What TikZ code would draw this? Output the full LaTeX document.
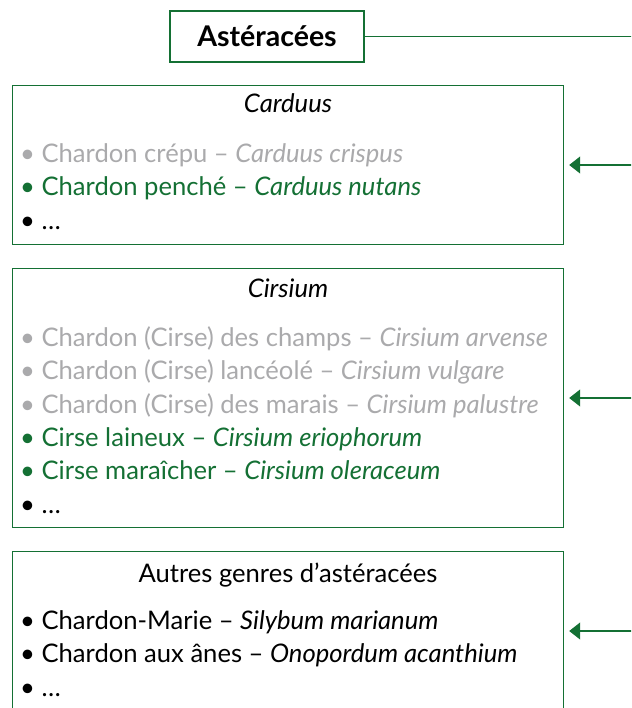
\documentclass[tikz,border=0pt]{standalone}
\usepackage{fontspec}
\setmainfont{Lato}
\usetikzlibrary{arrows.meta}
\definecolor{vert}{RGB}{20,112,52}
\definecolor{gris}{RGB}{170,170,172}
\tikzset{
  x=1pt, y=1pt,
  box/.style={draw=vert, line width=1.2pt, rectangle, inner sep=0pt},
  ln/.style={anchor=base west, inner sep=0pt, font=\fontsize{25.6}{30}\selectfont},
  ttl/.style={anchor=base, inner sep=0pt, font=\fontsize{25.6}{30}\selectfont},
  conn/.style={draw=vert, line width=1.2pt},
  arr/.style={conn, -{Triangle[length=11pt,width=17pt]}}
}
\begin{document}
\begin{tikzpicture}
\clip (0,0) rectangle (631,-708);
\useasboundingbox (0,0) rectangle (631,-708);
% top node
\node[box, minimum width=194pt, minimum height=51pt, font=\fontsize{28.5}{32}\selectfont\bfseries] (top) at (267,-36.5) {Astéracées};
\coordinate (topR) at (640,-36.5);
\draw[conn] (top.east) -- (topR);
% boxes
\node[box, anchor=north west, minimum width=551pt, minimum height=159pt] (b1) at (12,-85) {};
\node[box, anchor=north west, minimum width=551pt, minimum height=259pt] (b2) at (12,-268) {};
\node[box, anchor=north west, minimum width=551pt, minimum height=180pt] (b3) at (12,-551) {};
% arrows
\coordinate (a1) at (640,-165);
\coordinate (a2) at (640,-398);
\coordinate (a3) at (640,-631);
\draw[arr] (a1) -- ([xshift=5pt]b1.east |- a1);
\draw[arr] (a2) -- ([xshift=5pt]b2.east |- a2);
\draw[arr] (a3) -- ([xshift=5pt]b3.east |- a3);
% box 1
\node[ttl] (t1) at (288,-113) {\itshape Carduus};
\node[ln, text=gris] (l11) at (20,-163) {• Chardon crépu – \textit{Carduus crispus}};
\node[ln, text=vert] (l12) at (20,-196) {• Chardon penché – \textit{Carduus nutans}};
\node[ln] (l13) at (20,-230) {• …};
% box 2
\node[ttl] (t2) at (288,-297) {\itshape Cirsium};
\node[ln, text=gris] (l21) at (20,-346) {• Chardon (Cirse) des champs – \textit{Cirsium arvense}};
\node[ln, text=gris] (l22) at (20,-379) {• Chardon (Cirse) lancéolé – \textit{Cirsium vulgare}};
\node[ln, text=gris] (l23) at (20,-413) {• Chardon (Cirse) des marais – \textit{Cirsium palustre}};
\node[ln, text=vert] (l24) at (20,-446) {• Cirse laineux – \textit{Cirsium eriophorum}};
\node[ln, text=vert] (l25) at (20,-479) {• Cirse maraîcher – \textit{Cirsium oleraceum}};
\node[ln] (l26) at (20,-513) {• …};
% box 3
\node[ttl] (t3) at (288,-582) {Autres genres d’astéracées};
\node[ln] (l31) at (20,-629) {• Chardon-Marie – \textit{Silybum marianum}};
\node[ln] (l32) at (20,-662) {• Chardon aux ânes – \textit{Onopordum acanthium}};
\node[ln] (l33) at (20,-696) {• …};
\end{tikzpicture}
\end{document}
